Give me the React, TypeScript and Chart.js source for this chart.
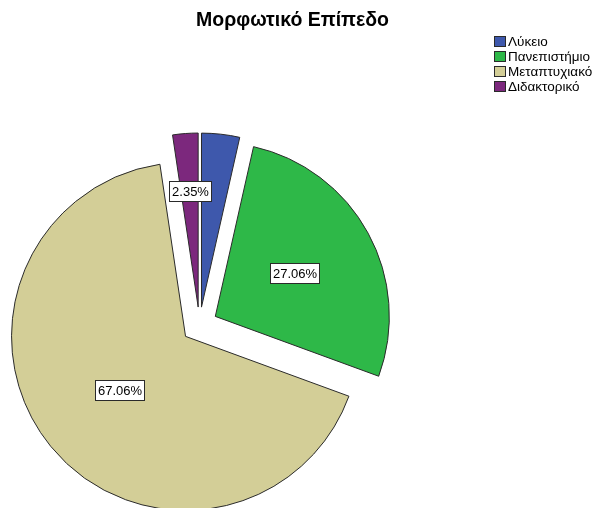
import React, { useEffect, useRef } from 'react';
import { Chart, registerables } from 'chart.js';

Chart.register(...registerables);

// ---- data ----
const categories = ['Λύκειο', 'Πανεπιστήμιο', 'Μεταπτυχιακό', 'Διδακτορικό'];
const counts = [3, 23, 57, 2];
const sliceColors = ['#3E58AC', '#2EB848', '#D3CE97', '#7C287D'];
const showPctLabel = [false, true, true, true];
const pctLabelRadius = [0.55, 0.52, 0.49, 0.67];
const chartTitle = 'Μορφωτικό Επίπεδο';

const FONT = "'Liberation Sans', Arial, Helvetica, sans-serif";

const explodePlugin = {
  id: 'explode',
  afterDatasetsUpdate(chart: any, _args: any, opts: any) {
    const d = (opts && opts.distance) || 0;
    chart.getDatasetMeta(0).data.forEach((arc: any) => {
      const mid = (arc.startAngle + arc.endAngle) / 2;
      arc.x += Math.cos(mid) * d;
      arc.y += Math.sin(mid) * d;
    });
  },
};

const pctLabelPlugin = {
  id: 'pctLabels',
  afterDatasetsDraw(chart: any, _args: any, opts: any) {
    const ctx = chart.ctx as CanvasRenderingContext2D;
    const meta = chart.getDatasetMeta(0);
    const data = chart.data.datasets[0].data as number[];
    const total = data.reduce((a, b) => a + b, 0);
    ctx.save();
    ctx.font = `${opts.fontSize}px ${FONT}`;
    ctx.textAlign = 'center';
    ctx.textBaseline = 'middle';
    meta.data.forEach((arc: any, i: number) => {
      if (!showPctLabel[i]) return;
      const mid = (arc.startAngle + arc.endAngle) / 2;
      const r = arc.outerRadius * pctLabelRadius[i];
      const x = arc.x + Math.cos(mid) * r;
      const y = arc.y + Math.sin(mid) * r;
      const text = ((data[i] / total) * 100).toFixed(2) + '%';
      const w = Math.round(ctx.measureText(text).width + opts.padX * 2);
      const h = opts.boxHeight;
      const bx = Math.round(x - w / 2) + 0.5;
      const by = Math.round(y - h / 2) + 0.5;
      ctx.fillStyle = '#ffffff';
      ctx.fillRect(bx, by, w, h);
      ctx.strokeStyle = '#2a2a2a';
      ctx.lineWidth = 1;
      ctx.strokeRect(bx, by, w, h);
      ctx.fillStyle = '#000000';
      ctx.fillText(text, bx + w / 2, by + h / 2 + 1);
    });
    ctx.restore();
  },
};

const titleLegendPlugin = {
  id: 'titleLegend',
  afterDraw(chart: any, _args: any, opts: any) {
    const ctx = chart.ctx as CanvasRenderingContext2D;
    ctx.save();
    // title
    ctx.font = `bold ${opts.titleSize}px ${FONT}`;
    ctx.fillStyle = '#000';
    ctx.textAlign = 'center';
    ctx.textBaseline = 'middle';
    ctx.fillText(chartTitle, opts.titleX, opts.titleY);
    // legend
    ctx.font = `${opts.legendSize}px ${FONT}`;
    ctx.textAlign = 'left';
    ctx.textBaseline = 'middle';
    const labels = chart.data.labels as string[];
    const bg = chart.data.datasets[0].backgroundColor as string[];
    labels.forEach((lab, i) => {
      const y = opts.legendY + i * opts.legendStep;
      ctx.fillStyle = bg[i];
      ctx.fillRect(opts.legendX + 0.5, y + 0.5, opts.boxW, opts.boxH);
      ctx.strokeStyle = '#2a2a2a';
      ctx.lineWidth = 1;
      ctx.strokeRect(opts.legendX + 0.5, y + 0.5, opts.boxW, opts.boxH);
      ctx.fillStyle = '#000';
      ctx.fillText(lab, opts.legendX + opts.boxW + 3, y + opts.boxH / 2 + 1);
    });
    ctx.restore();
  },
};

export default function App() {
  const ref = useRef<HTMLCanvasElement | null>(null);

  useEffect(() => {
    if (!ref.current) return;
    const chart = new Chart(ref.current, {
      type: 'pie',
      data: {
        labels: categories,
        datasets: [
          {
            data: counts,
            backgroundColor: sliceColors,
            borderColor: '#2a2a2a',
            borderWidth: 1,
            clip: false as any,
          },
        ],
      },
      options: {
        animation: false,
        responsive: false,
        devicePixelRatio: 1,
        events: [],
        radius: 174,
        layout: { padding: { left: 0, right: 195, top: 142, bottom: 0 } },
        plugins: {
          legend: { display: false },
          title: { display: false },
          tooltip: { enabled: false },
          explode: { distance: 18 },
          pctLabels: { fontSize: 13, padX: 2.5, boxHeight: 20 },
          titleLegend: {
            titleSize: 19.5,
            titleX: 292.5,
            titleY: 21,
            legendSize: 13.5,
            legendX: 494,
            legendY: 36,
            legendStep: 15,
            boxW: 11,
            boxH: 10,
          },
        } as any,
      },
      plugins: [explodePlugin, pctLabelPlugin, titleLegendPlugin],
    });
    return () => chart.destroy();
  }, []);

  return (
    <div style={{ position: 'absolute', left: 0, top: 0, width: 594, height: 508, background: '#fff' }}>
      <canvas ref={ref} width={594} height={508} />
    </div>
  );
}
